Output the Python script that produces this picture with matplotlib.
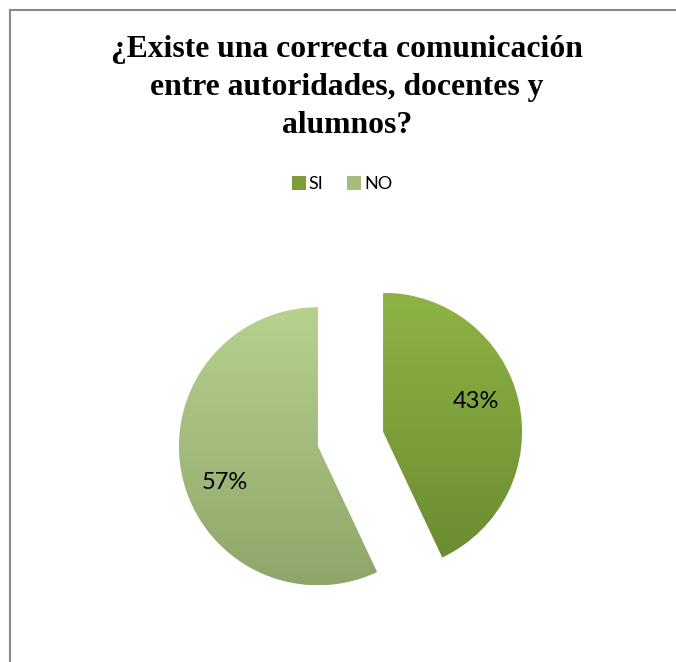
import numpy as np
import matplotlib
matplotlib.use("Agg")
import matplotlib.pyplot as plt
from matplotlib.colors import LinearSegmentedColormap
from matplotlib.patches import Rectangle
from matplotlib.lines import Line2D

# data
labels = ["SI", "NO"]
shares = [43, 57]
title = "¿Existe una correcta comunicación\nentre autoridades, docentes y\nalumnos?"

# gradient colours (top, bottom) per slice
grad_top = ["#8eb345", "#b7d18f"]
grad_bottom = ["#6a8a30", "#8fa66a"]
legend_colors = ["#7c9e3a", "#a4bd7c"]

W, H = 676, 662
fig = plt.figure(figsize=(W / 100, H / 100), dpi=100)
fig.patch.set_facecolor("white")

# pie axes, 1 data unit = 139 px
r_px = 139
cx, cy = 350.5, 223
ax = fig.add_axes([(cx - 2 * r_px) / W, (cy - 1.5 * r_px) / H, 4 * r_px / W, 3 * r_px / H])
ax.set_xlim(-2, 2)
ax.set_ylim(-1.5, 1.5)
ax.set_aspect("equal")
ax.axis("off")

wedges, texts, autotexts = ax.pie(
    shares, explode=[0.24, 0.24], startangle=90, counterclock=False,
    autopct="%d%%", pctdistance=0.71, radius=1,
    textprops=dict(family="Lato", fontsize=17, color="black"),
)
ax.set_xlim(-2, 2)
ax.set_ylim(-1.5, 1.5)

for i, w in enumerate(wedges):
    w.set_facecolor("none")
    w.set_edgecolor("none")
    # shift label a little counter-clockwise like the original
    mid = np.deg2rad((w.theta1 + w.theta2) / 2 + 7)
    cxw, cyw = w.center
    autotexts[i].set_position((cxw + 0.71 * np.cos(mid), cyw + 0.71 * np.sin(mid) - 0.02))
    autotexts[i].set_zorder(5)
    cmap = LinearSegmentedColormap.from_list("g%d" % i, [grad_bottom[i], grad_top[i]])
    grad = np.linspace(0, 1, 256).reshape(-1, 1)
    im = ax.imshow(grad, cmap=cmap, origin="lower", aspect="auto",
                   extent=[cxw - 1, cxw + 1, cyw - 1, cyw + 1], zorder=2,
                   interpolation="bilinear")
    im.set_clip_path(w)

# legend
handles = [Rectangle((0, 0), 1, 1, facecolor=c, edgecolor="none") for c in legend_colors]
fig.legend(handles, labels, loc="center", bbox_to_anchor=(342 / W, 1 - 184 / H),
           ncol=2, frameon=False, prop=dict(family="Lato", size=13),
           handlelength=0.8, handleheight=0.8, handletextpad=0.15, columnspacing=1.3)

# title
fig.text(347 / W, 1 - 35 / H, title, ha="center", va="top", family="Liberation Serif",
         fontweight="bold", fontsize=22.8, linespacing=1.4)

# frame lines (top and left only visible)
fig.add_artist(Line2D([9.5 / W, 9.5 / W], [0, 1 - 9.5 / H], transform=fig.transFigure,
                      color="#8a8a8a", linewidth=1.5))
fig.add_artist(Line2D([9.5 / W, 1], [1 - 9.5 / H, 1 - 9.5 / H], transform=fig.transFigure,
                      color="#8a8a8a", linewidth=1.5))

fig.savefig("out.png", dpi=100)
